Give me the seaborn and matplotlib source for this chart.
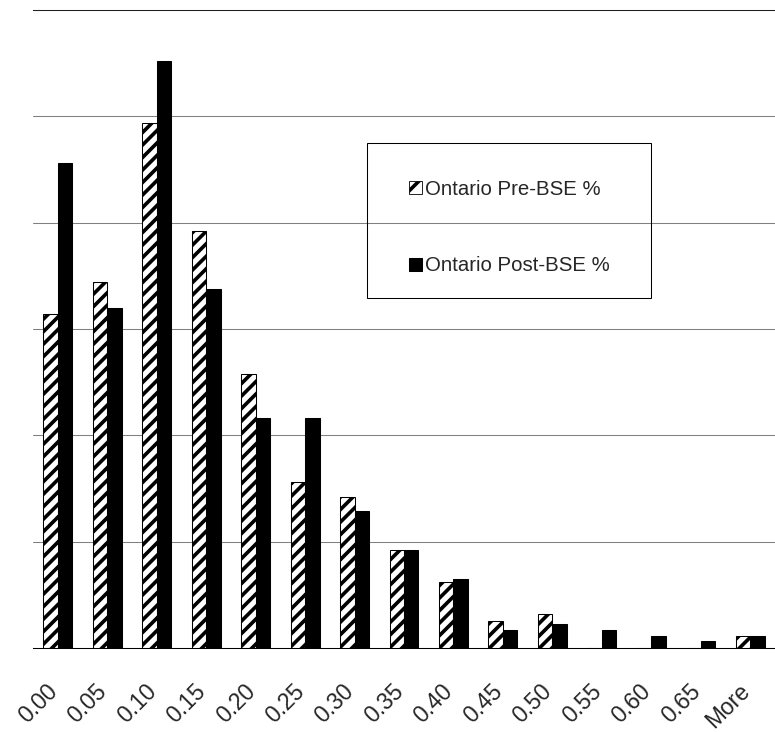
import numpy as np
import pandas as pd
import seaborn as sns
import matplotlib.pyplot as plt
from matplotlib.patches import Patch, Rectangle
from matplotlib.transforms import ScaledTranslation

# histogram bins and the two series (share of herds)
bins = ["0.00", "0.05", "0.10", "0.15", "0.20", "0.25", "0.30", "0.35",
        "0.40", "0.45", "0.50", "0.55", "0.60", "0.65", "More"]
pre_bse = [15.7, 17.2, 24.7, 19.6, 12.9, 7.8, 7.1, 4.6,
           3.1, 1.25, 1.6, 0, 0, 0, 0.56]
post_bse = [22.8, 16.0, 27.6, 16.9, 10.8, 10.8, 6.45, 4.6,
            3.25, 0.85, 1.13, 0.85, 0.56, 0.33, 0.56]
series = ["Ontario Pre-BSE %", "Ontario Post-BSE %"]

df = pd.DataFrame({
    "bin": bins * 2,
    "value": pre_bse + post_bse,
    "series": [series[0]] * len(bins) + [series[1]] * len(bins),
})

sns.set_style("white")
plt.rcParams.update({"font.family": ["Liberation Sans", "DejaVu Sans"],
                     "hatch.linewidth": 3.5})

fig = plt.figure(figsize=(775 / 75, 732 / 75), dpi=75)
ax = fig.add_axes([33 / 775, 84 / 732, 742 / 775, 638 / 732])

sns.barplot(data=df, x="bin", y="value", hue="series",
            palette=["white", "black"], edgecolor="black", linewidth=1,
            width=0.585, ax=ax)
for bar in ax.containers[0]:
    bar.set_hatch("//")
ax.get_legend().remove()

ax.set_xlim(-0.5, len(bins) - 0.5)
ax.set_ylim(0, 30)
ax.set_yticks(np.arange(0, 31, 5))
ax.set_yticklabels([])
ax.tick_params(axis="y", length=0)
ax.yaxis.grid(True, color="#808080", linewidth=1)
ax.set_axisbelow(True)
ax.set_xlabel("")
ax.set_ylabel("")

# ticks between categories, labels in the middle
ax.set_xticks(np.arange(-0.5, len(bins), 1))
ax.set_xticklabels([])
ax.set_xticks(np.arange(len(bins)), minor=True)
ax.set_xticklabels(bins, minor=True, fontsize=22)
ax.tick_params(axis="x", which="major", length=7.7, width=1, color="#808080")
ax.tick_params(axis="x", which="minor", length=0, pad=38)
shift = ScaledTranslation(-4 / 75, 0, fig.dpi_scale_trans)
for lab in ax.get_xticklabels(minor=True):
    lab.set_rotation(45)
    lab.set_ha("right")
    lab.set_va("center")
    lab.set_rotation_mode("anchor")
    lab.set_transform(lab.get_transform() + shift)

for s in ["left", "right"]:
    ax.spines[s].set_visible(False)
ax.spines["bottom"].set_color("black")
ax.spines["bottom"].set_linewidth(1)
ax.spines["top"].set_color("#202020")
ax.spines["top"].set_linewidth(1)

handles = [Patch(facecolor="white", edgecolor="black", hatch="/", linewidth=0.8),
           Patch(facecolor="black", edgecolor="black")]
ax.legend(handles=handles, labels=series, loc="upper left", frameon=False,
          bbox_to_anchor=(409 / 775, 1 - 180 / 732), bbox_transform=fig.transFigure,
          borderpad=0, borderaxespad=0, fontsize=19.5, handlelength=0.62,
          handleheight=0.62, handletextpad=0.16, labelspacing=2.82)
fig.patches.append(Rectangle((367 / 775, 1 - 298 / 732), 284 / 775, 155 / 732,
                             transform=fig.transFigure, facecolor="none",
                             edgecolor="black", linewidth=1, zorder=5))

fig.savefig("out.png", dpi=75)
